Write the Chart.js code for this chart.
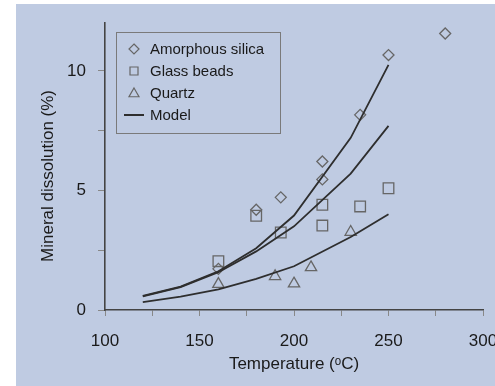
<!DOCTYPE html>
<html>
<head>
<meta charset="utf-8">
<script src="https://cdn.jsdelivr.net/npm/chart.js@4.4.1/dist/chart.umd.min.js"></script>
<style>
  html, body { margin: 0; padding: 0; background: #fff; }
  #wrap { position: relative; width: 495px; height: 386px; }
</style>
</head>
<body>
<div id="wrap"><canvas id="c" width="495" height="386"></canvas></div>
<script>
// measured points
const silicaT = [160, 180, 193, 215, 215, 235, 250, 280];
const silicaV = [1.72, 4.19, 4.71, 5.46, 6.21, 8.16, 10.66, 11.56];
const glassT  = [160, 180, 193, 215, 215, 235, 250];
const glassV  = [2.04, 3.94, 3.24, 3.53, 4.40, 4.33, 5.09];
const quartzT = [160, 190, 200, 209, 230];
const quartzV = [1.08, 1.41, 1.10, 1.78, 3.26];

// model curves
const modelT      = [120, 140, 160, 180, 200, 230, 250];
const modelSilica = [0.59, 0.98, 1.62, 2.58, 3.95, 7.20, 10.25];
const modelGlass  = [0.57, 0.96, 1.58, 2.45, 3.50, 5.70, 7.70];
const modelQuartz = [0.33, 0.56, 0.86, 1.30, 1.83, 3.05, 4.00];

const X_TICKS = [100, 125, 150, 175, 200, 225, 250, 275, 300];
const Y_TICKS = [0, 2.5, 5, 7.5, 10];
const LEGEND_LABELS = ['Amorphous silica', 'Glass beads', 'Quartz', 'Model'];
const LEGEND_SHAPES = ['rectRot', 'rect', 'triangle', 'line'];

const FONT = "'Liberation Sans', Arial, sans-serif";
const MARK = '#666';
const LINE = '#2e2e2e';
const TXT = '#1a1a1a';

const pts = (xs, ys) => xs.map((x, i) => ({ x, y: ys[i] }));

const bgPlugin = {
  id: 'bg',
  beforeDraw(chart) {
    const ctx = chart.ctx;
    ctx.save();
    ctx.fillStyle = '#bfcbe2';
    ctx.fillRect(16, 4, chart.width - 16, chart.height - 4);
    ctx.restore();
  },
};

function shape(ctx, kind, x, y, r) {
  ctx.beginPath();
  if (kind === 'rectRot') {
    ctx.moveTo(x, y - r); ctx.lineTo(x + r, y); ctx.lineTo(x, y + r); ctx.lineTo(x - r, y); ctx.closePath();
  } else if (kind === 'rect') {
    ctx.rect(x - r * 0.8, y - r * 0.8, r * 1.6, r * 1.6);
  } else if (kind === 'triangle') {
    ctx.moveTo(x, y - r); ctx.lineTo(x + r, y + r * 0.75); ctx.lineTo(x - r, y + r * 0.75); ctx.closePath();
  } else {
    ctx.moveTo(x - 10, y); ctx.lineTo(x + 10, y);
  }
  ctx.stroke();
}

const legendPlugin = {
  id: 'boxLegend',
  afterDraw(chart) {
    const ctx = chart.ctx;
    ctx.save();
    ctx.strokeStyle = '#7a7a7a';
    ctx.lineWidth = 1;
    ctx.strokeRect(116.5, 32.5, 164, 101);
    ctx.font = '15px ' + FONT;
    ctx.textBaseline = 'middle';
    ctx.fillStyle = TXT;
    const rows = [49, 71, 93, 115];
    LEGEND_LABELS.forEach((lab, i) => {
      const kind = LEGEND_SHAPES[i];
      ctx.strokeStyle = kind === 'line' ? LINE : MARK;
      ctx.lineWidth = kind === 'line' ? 2 : 1.2;
      shape(ctx, kind, 134, rows[i], 5);
      ctx.fillText(lab, 150, rows[i] + 1);
    });
    ctx.restore();
  },
};

const markerDs = (label, xs, ys, style, r) => ({
  label, data: pts(xs, ys), showLine: false,
  pointStyle: style, pointRadius: r, pointHoverRadius: r,
  pointBorderColor: MARK, pointBackgroundColor: 'rgba(0,0,0,0)', pointBorderWidth: 1.3,
});
const modelDs = (label, ys) => ({
  label, data: pts(modelT, ys), showLine: true, pointRadius: 0,
  borderColor: LINE, borderWidth: 1.8, tension: 0, fill: false,
});

new Chart(document.getElementById('c'), {
  type: 'scatter',
  data: {
    datasets: [
      modelDs('Model silica', modelSilica),
      modelDs('Model glass', modelGlass),
      modelDs('Model quartz', modelQuartz),
      markerDs('Amorphous silica', silicaT, silicaV, 'rectRot', 5.5),
      markerDs('Glass beads', glassT, glassV, 'rect', 7.5),
      markerDs('Quartz', quartzT, quartzV, 'triangle', 6.5),
    ],
  },
  options: {
    responsive: false, animation: false, devicePixelRatio: 1,
    layout: { padding: { left: 0, top: 23, right: 12, bottom: 0 } },
    plugins: { legend: { display: false }, tooltip: { enabled: false } },
    scales: {
      x: {
        type: 'linear', min: 100, max: 300,
        afterBuildTicks: s => { s.ticks = X_TICKS.map(v => ({ value: v })); },
        afterFit: s => { s.height = 76; s.paddingLeft = 0; s.paddingRight = 0; },
        border: { display: true, color: '#444', width: 1.6 },
        grid: { drawOnChartArea: false, drawTicks: true, tickLength: 6, tickColor: '#888', tickWidth: 1 },
        ticks: { color: TXT, padding: 15, maxRotation: 0, autoSkip: false,
                 font: { family: FONT, size: 17 },
                 callback: v => (v % 50 === 0 ? String(v) : '') },
        title: { display: true, text: 'Temperature (ᵒC)', color: TXT,
                 font: { family: FONT, size: 17 }, padding: { top: 0, bottom: 11 } },
      },
      y: {
        type: 'linear', min: 0, max: 12,
        afterBuildTicks: s => { s.ticks = Y_TICKS.map(v => ({ value: v })); },
        afterFit: s => { s.width = 105; s.paddingTop = 0; s.paddingBottom = 0; },
        border: { display: true, color: '#444', width: 1.6 },
        grid: { drawOnChartArea: false, drawTicks: true, tickLength: 7, tickColor: '#888', tickWidth: 1 },
        ticks: { color: TXT, padding: 12, autoSkip: false,
                 font: { family: FONT, size: 17 },
                 callback: v => (v % 5 === 0 ? String(v) : '') },
        title: { display: true, text: 'Mineral dissolution (%)\u00a0\u00a0\u00a0\u00a0', color: TXT,
                 font: { family: FONT, size: 17 }, padding: { top: 38, bottom: 0 } },
      },
    },
  },
  plugins: [bgPlugin, legendPlugin],
});
</script>
</body>
</html>
